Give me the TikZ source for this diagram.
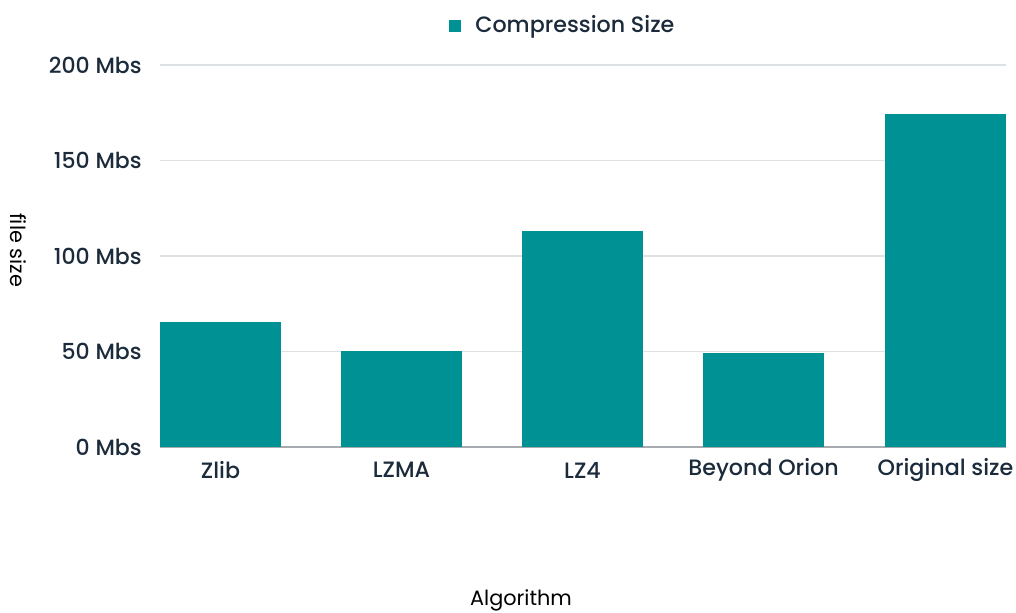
\documentclass[tikz,border=0pt]{standalone}
\usepackage{fontspec}
\setmainfont{Poppins}
\newfontfamily\medfont{Poppins Medium}
\usepackage{xcolor}
\usepackage{tikz}
\usetikzlibrary{positioning}
\definecolor{tealx}{HTML}{009194}
\definecolor{inkx}{HTML}{1B2B3B}
\definecolor{gridx}{HTML}{DDE1E4}
\definecolor{basex}{HTML}{A7ABB0}
\tikzset{
  barfill/.style={fill=tealx,draw=none},
  ticklab/.style={font=\medfont\fontsize{11}{13}\selectfont,text=inkx,anchor=east,inner sep=0pt},
  catlab/.style={font=\medfont\fontsize{11.1}{13}\selectfont,text=inkx,inner sep=0pt},
  axlab/.style={font=\fontsize{10.4}{12}\selectfont,text=black,inner sep=0pt}
}
% one bar: left x, value, name, label
\newcommand{\barx}[4]{%
  \pgfmathsetmacro{\bartop}{447-#2*1.91}
  \fill[barfill] (#1,447) rectangle (#1+121,\bartop);
  \node[catlab] (#3) at (#1+60.5,470) {#4};}

\begin{document}
\begin{tikzpicture}[x=0.5pt,y=-0.5pt]
\useasboundingbox (0,0) rectangle (1016,612);
% grid and tick labels
\foreach \v in {50,100,150,200}{
  \draw[gridx,line width=0.75pt] (160,447-\v*1.91) -- (1006,447-\v*1.91);}
\foreach \v in {0,50,100,150,200}{
  \node[ticklab] (t\v) at (142,447-\v*1.91) {\v\ Mbs};}
\draw[basex,line width=0.75pt] (160,447) -- (1006,447);
% bars
\barx{160}{65.4}{zlib}{Zlib}
\barx{341}{50.3}{lzma}{LZMA}
\barx{522}{113}{lzf}{LZ4}
\barx{703}{49.2}{orion}{Beyond Orion}
\barx{885}{174.3}{orig}{Original size}
% legend
\fill[tealx] (449,20) rectangle (461,32);
\node[catlab,anchor=west] (leg) at (475,27) {Compression Size};
% axis titles
\node[axlab,rotate=-90] (ylab) at (18,250) {file size};
\node[axlab] (xlab) at (521,600) {Algorithm};
\end{tikzpicture}
\end{document}
